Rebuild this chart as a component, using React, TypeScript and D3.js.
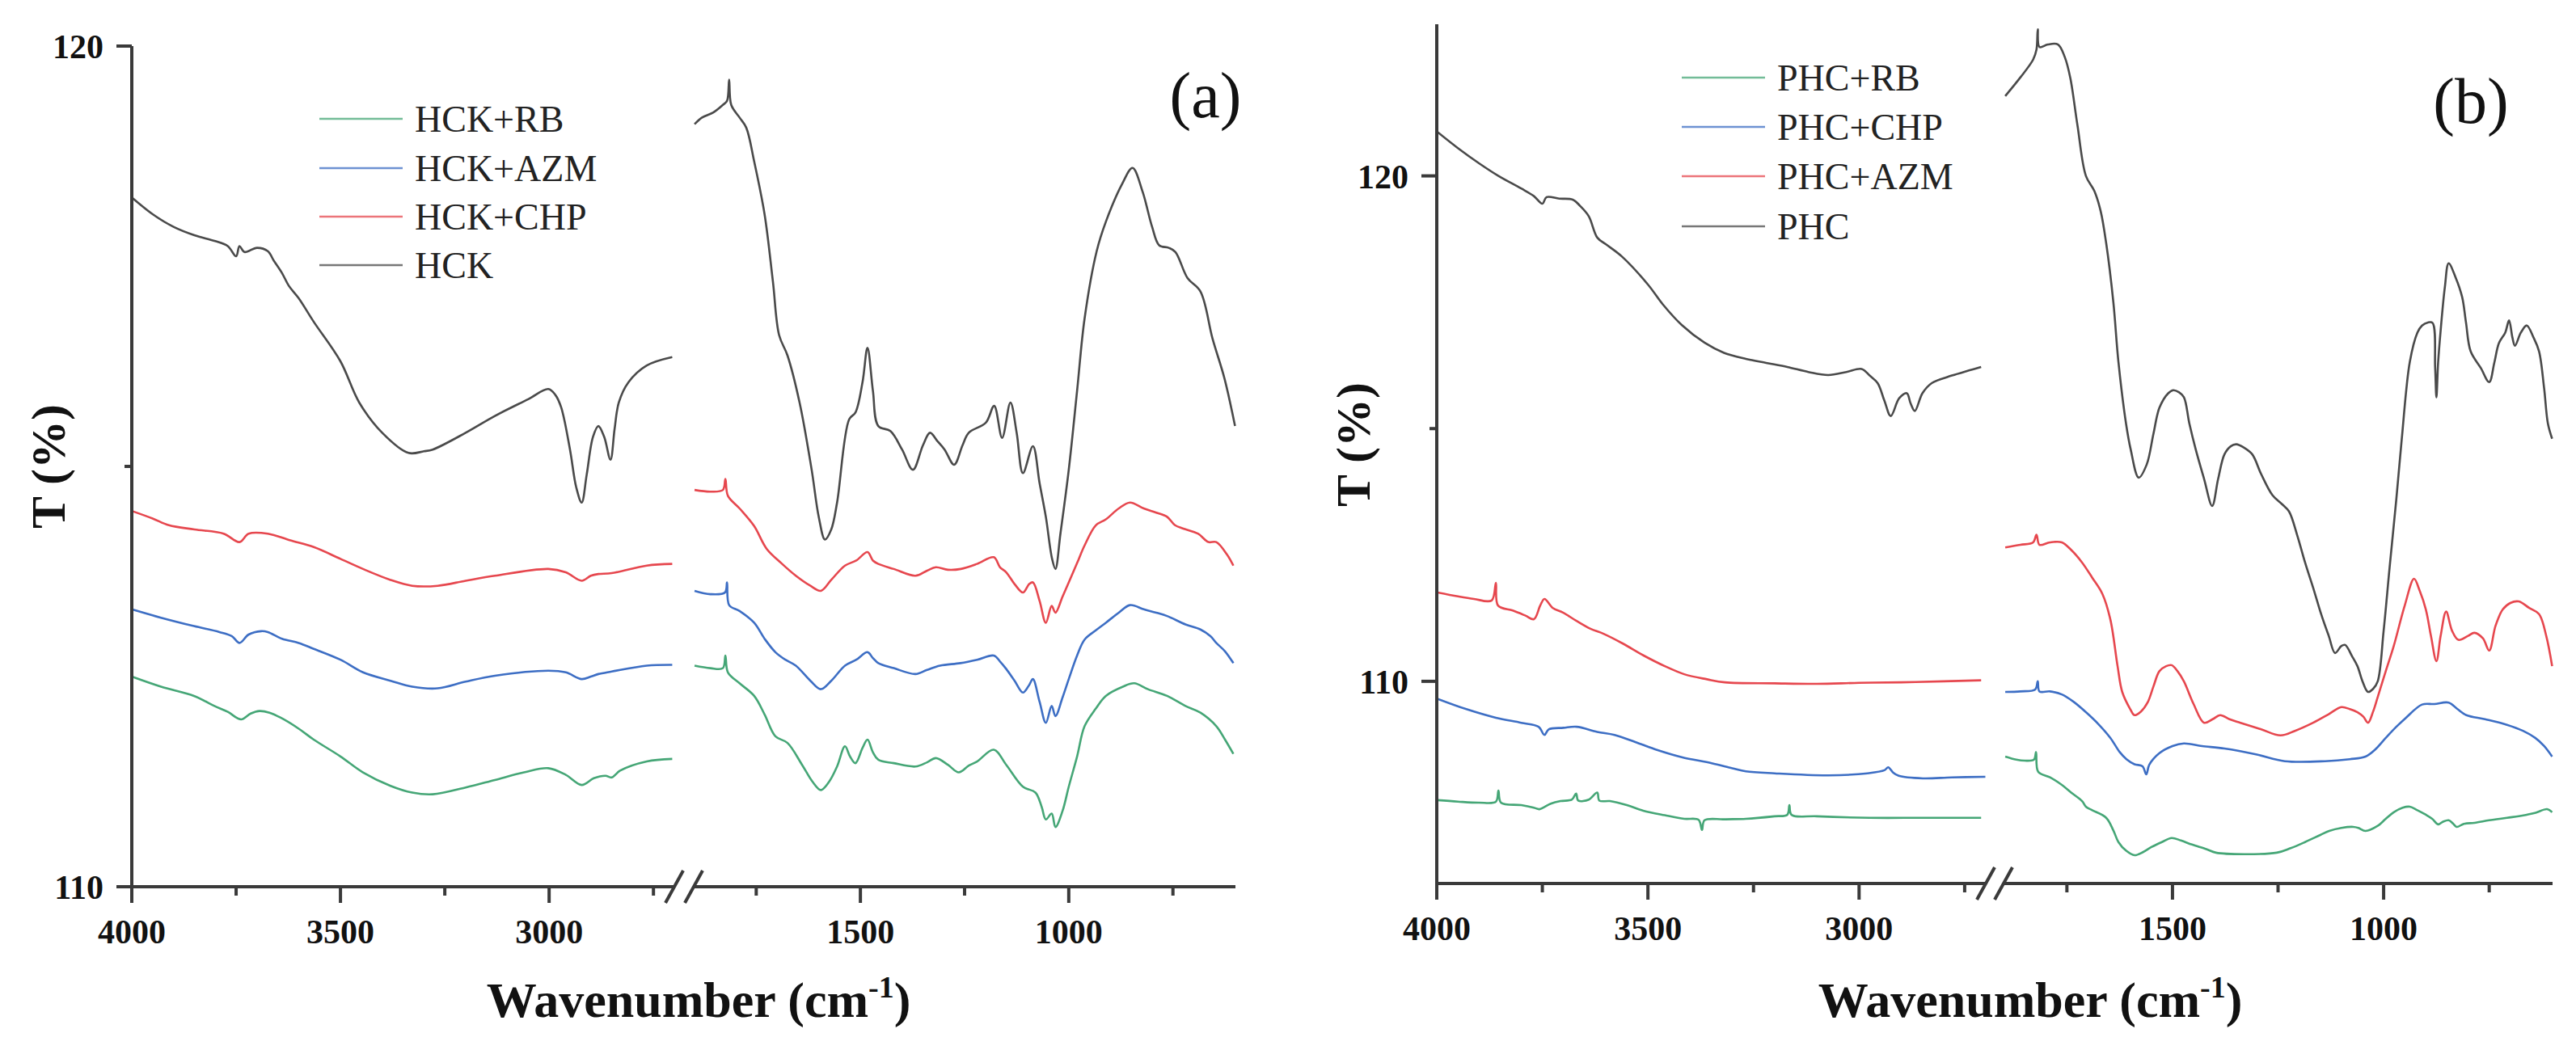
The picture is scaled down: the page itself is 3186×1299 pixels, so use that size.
import React from 'react';
import * as d3 from 'd3';

type Pt = [number, number];

// ---------- Panel (a) data: [wavenumber, T%] ----------
const HCK: Pt[] = [
  [4000,118.2],[3950,118.0],[3900,117.85],[3850,117.75],[3800,117.68],[3770,117.62],[3750,117.5],[3742,117.62],[3730,117.55],[3700,117.6],[3674,117.56],[3660,117.45],[3640,117.3],[3624,117.15],[3600,117.0],[3564,116.72],[3500,116.25],[3455,115.76],[3400,115.4],[3337,115.16],[3300,115.18],[3279,115.2],[3200,115.4],[3130,115.6],[3050,115.8],[3002,115.92],[2985,115.85],[2971,115.7],[2950,115.2],[2935,114.75],[2922,114.57],[2910,114.9],[2895,115.35],[2882,115.48],[2868,115.35],[2853,115.08],[2843,115.45],[2833,115.76],[2810,116.0],[2766,116.2],[2705,116.3],
  [1898,119.07],[1880,119.15],[1853,119.21],[1830,119.3],[1820,119.35],[1815,119.6],[1810,119.3],[1790,119.15],[1774,119.03],[1755,118.63],[1730,118.0],[1710,117.2],[1695,116.56],[1675,116.32],[1646,115.76],[1617,114.96],[1600,114.4],[1585,114.13],[1570,114.25],[1556,114.57],[1527,115.56],[1512,115.64],[1495,116.0],[1483,116.41],[1470,115.9],[1457,115.48],[1428,115.42],[1400,115.2],[1374,114.96],[1350,115.25],[1333,115.4],[1315,115.3],[1298,115.2],[1275,115.02],[1255,115.25],[1240,115.4],[1199,115.52],[1179,115.72],[1160,115.34],[1140,115.76],[1125,115.4],[1110,114.92],[1086,115.24],[1070,114.8],[1055,114.4],[1040,113.9],[1032,113.78],[1020,114.2],[1000,114.96],[980,115.9],[962,116.76],[933,117.56],[911,117.91],[872,118.36],[847,118.55],[823,118.27],[800,117.85],[783,117.63],[760,117.6],[744,117.55],[715,117.24],[684,117.08],[655,116.52],[626,116.04],[601,115.48],
];
const HCK_CHP: Pt[] = [
  [4000,114.47],[3950,114.38],[3911,114.3],[3850,114.25],[3780,114.2],[3742,114.1],[3720,114.2],[3674,114.2],[3620,114.12],[3564,114.04],[3500,113.9],[3446,113.78],[3380,113.65],[3328,113.58],[3267,113.58],[3200,113.64],[3130,113.7],[3002,113.78],[2960,113.74],[2922,113.64],[2900,113.7],[2882,113.72],[2850,113.73],[2766,113.82],[2705,113.84],
  [1898,114.72],[1860,114.7],[1830,114.72],[1824,114.85],[1818,114.65],[1790,114.5],[1755,114.29],[1725,114.02],[1690,113.85],[1655,113.7],[1620,113.58],[1595,113.52],[1570,113.65],[1537,113.82],[1510,113.88],[1483,113.98],[1470,113.88],[1457,113.84],[1420,113.78],[1368,113.7],[1340,113.76],[1319,113.8],[1290,113.77],[1259,113.78],[1220,113.84],[1180,113.92],[1165,113.8],[1150,113.74],[1130,113.6],[1110,113.5],[1095,113.6],[1086,113.62],[1070,113.4],[1055,113.14],[1041,113.34],[1032,113.26],[1015,113.45],[1000,113.62],[980,113.85],[962,114.06],[935,114.3],[911,114.37],[880,114.5],[853,114.57],[820,114.5],[790,114.45],[764,114.4],[745,114.3],[725,114.26],[690,114.2],[665,114.1],[646,114.1],[620,113.95],[605,113.82],
];
const HCK_AZM: Pt[] = [
  [4000,113.3],[3930,113.2],[3851,113.1],[3790,113.03],[3760,112.98],[3742,112.9],[3720,113.0],[3690,113.04],[3674,113.03],[3640,112.95],[3600,112.9],[3564,112.83],[3500,112.7],[3446,112.55],[3380,112.45],[3328,112.38],[3267,112.36],[3200,112.44],[3130,112.51],[3002,112.57],[2960,112.55],[2922,112.47],[2900,112.5],[2882,112.53],[2850,112.56],[2766,112.63],[2705,112.64],
  [1898,113.52],[1860,113.48],[1825,113.5],[1820,113.62],[1815,113.35],[1790,113.28],[1755,113.14],[1730,112.95],[1704,112.79],[1680,112.7],[1655,112.63],[1620,112.45],[1595,112.35],[1570,112.45],[1537,112.63],[1510,112.7],[1483,112.79],[1470,112.72],[1457,112.66],[1420,112.6],[1368,112.53],[1340,112.58],[1309,112.63],[1260,112.66],[1220,112.7],[1180,112.75],[1165,112.68],[1150,112.59],[1130,112.45],[1110,112.31],[1095,112.4],[1086,112.47],[1070,112.2],[1055,111.95],[1041,112.15],[1032,112.03],[1015,112.25],[1000,112.47],[980,112.75],[962,112.94],[935,113.05],[911,113.14],[880,113.26],[853,113.35],[820,113.3],[790,113.26],[764,113.22],[720,113.12],[684,113.06],[660,112.98],[646,112.9],[625,112.8],[605,112.66],
];
const HCK_RB: Pt[] = [
  [4000,112.5],[3930,112.38],[3851,112.27],[3802,112.15],[3770,112.08],[3738,111.99],[3715,112.06],[3694,112.09],[3670,112.07],[3643,112.01],[3600,111.88],[3564,111.75],[3500,111.55],[3446,111.36],[3380,111.2],[3328,111.12],[3279,111.1],[3200,111.18],[3130,111.27],[3060,111.36],[3002,111.41],[2960,111.33],[2922,111.21],[2893,111.29],[2865,111.32],[2850,111.3],[2830,111.38],[2766,111.49],[2705,111.52],
  [1898,112.63],[1860,112.6],[1830,112.6],[1824,112.75],[1818,112.55],[1790,112.42],[1755,112.27],[1730,112.05],[1704,111.79],[1675,111.71],[1640,111.45],[1615,111.25],[1595,111.15],[1575,111.25],[1556,111.43],[1537,111.67],[1525,111.55],[1512,111.47],[1495,111.65],[1483,111.75],[1470,111.6],[1457,111.51],[1420,111.47],[1368,111.43],[1340,111.48],[1319,111.53],[1290,111.45],[1264,111.36],[1240,111.44],[1220,111.49],[1180,111.63],[1150,111.45],[1110,111.19],[1080,111.12],[1065,110.95],[1055,110.8],[1041,110.87],[1032,110.71],[1015,110.9],[1000,111.19],[980,111.55],[962,111.91],[935,112.12],[911,112.27],[870,112.38],[843,112.42],[810,112.35],[764,112.27],[720,112.15],[684,112.07],[646,111.91],[625,111.75],[605,111.58],
];

// ---------- Panel (b) data ----------
const PHC: Pt[] = [
  [4000,120.88],[3950,120.55],[3900,120.25],[3854,120.0],[3800,119.75],[3770,119.6],[3750,119.45],[3740,119.58],[3710,119.55],[3678,119.53],[3660,119.4],[3640,119.2],[3620,118.78],[3600,118.65],[3561,118.4],[3500,117.85],[3464,117.45],[3420,117.05],[3366,116.7],[3320,116.5],[3268,116.38],[3220,116.3],[3170,116.22],[3120,116.12],[3073,116.06],[3030,116.12],[2994,116.18],[2975,116.05],[2956,115.9],[2940,115.55],[2925,115.25],[2905,115.6],[2887,115.7],[2878,115.5],[2868,115.35],[2850,115.7],[2828,115.9],[2780,116.05],[2740,116.15],[2711,116.22],
  [1896,121.58],[1860,121.95],[1830,122.3],[1822,122.5],[1819,122.9],[1815,122.55],[1795,122.6],[1771,122.6],[1755,122.35],[1742,121.94],[1725,121.0],[1705,120.0],[1685,119.7],[1670,119.3],[1657,118.67],[1640,117.5],[1628,116.32],[1610,115.1],[1599,114.59],[1580,114.03],[1561,114.29],[1545,114.9],[1531,115.41],[1510,115.7],[1498,115.76],[1485,115.72],[1473,115.62],[1460,115.1],[1445,114.59],[1425,114.0],[1406,113.47],[1392,114.0],[1377,114.49],[1362,114.65],[1349,114.69],[1330,114.62],[1311,114.49],[1290,114.1],[1263,113.68],[1240,113.5],[1224,113.36],[1205,112.9],[1186,112.35],[1165,111.8],[1148,111.33],[1130,110.9],[1115,110.56],[1100,110.7],[1091,110.72],[1075,110.5],[1062,110.3],[1050,110.0],[1037,109.79],[1025,109.85],[1014,110.0],[1000,111.0],[986,112.24],[970,113.6],[957,114.8],[938,116.32],[920,116.9],[909,117.04],[895,117.1],[884,117.09],[878,116.2],[875,115.62],[871,116.3],[865,116.94],[855,117.8],[846,118.27],[830,118.0],[814,117.6],[805,117.1],[794,116.53],[770,116.2],[750,115.92],[738,116.3],[727,116.69],[712,116.9],[703,117.14],[695,116.8],[689,116.64],[675,116.9],[661,117.04],[645,116.8],[632,116.53],[620,115.8],[611,115.1],[601,114.8],
];
const PHC_AZM: Pt[] = [
  [4000,111.76],[3950,111.68],[3912,111.63],[3870,111.6],[3860,111.95],[3855,111.5],[3820,111.4],[3790,111.3],[3770,111.23],[3755,111.5],[3745,111.63],[3725,111.45],[3701,111.36],[3670,111.2],[3636,111.04],[3605,110.94],[3560,110.75],[3510,110.51],[3460,110.3],[3414,110.14],[3360,110.04],[3318,109.98],[3200,109.96],[3100,109.95],[3000,109.97],[2900,109.98],[2800,110.0],[2711,110.02],
  [1896,112.65],[1860,112.7],[1830,112.75],[1822,112.9],[1815,112.7],[1790,112.75],[1762,112.75],[1740,112.6],[1714,112.35],[1690,112.05],[1666,111.73],[1647,111.22],[1630,110.3],[1619,109.79],[1600,109.45],[1590,109.33],[1575,109.4],[1559,109.58],[1545,109.9],[1531,110.2],[1515,110.3],[1502,110.32],[1488,110.2],[1473,110.0],[1450,109.55],[1425,109.18],[1405,109.25],[1387,109.33],[1365,109.25],[1339,109.18],[1290,109.05],[1244,108.93],[1210,109.02],[1167,109.18],[1130,109.35],[1100,109.49],[1080,109.45],[1062,109.39],[1048,109.3],[1037,109.18],[1025,109.4],[1014,109.69],[995,110.2],[976,110.7],[950,111.5],[928,112.03],[915,111.8],[900,111.42],[888,110.9],[875,110.4],[865,110.9],[852,111.38],[838,111.0],[823,110.82],[800,110.9],[785,110.96],[765,110.85],[750,110.61],[735,111.1],[718,111.42],[700,111.55],[680,111.58],[655,111.45],[632,111.33],[615,110.9],[601,110.3],
];
const PHC_CHP: Pt[] = [
  [4000,109.66],[3930,109.45],[3860,109.28],[3800,109.18],[3759,109.1],[3745,108.94],[3735,109.05],[3700,109.08],[3669,109.1],[3620,109.0],[3579,108.94],[3530,108.8],[3477,108.64],[3420,108.5],[3349,108.38],[3300,108.28],[3268,108.22],[3200,108.18],[3073,108.14],[2980,108.18],[2940,108.24],[2931,108.3],[2920,108.2],[2906,108.13],[2849,108.08],[2780,108.1],[2701,108.11],
  [1896,109.79],[1860,109.8],[1825,109.84],[1819,110.0],[1815,109.8],[1790,109.8],[1762,109.74],[1735,109.6],[1705,109.39],[1675,109.15],[1647,108.88],[1625,108.6],[1609,108.46],[1590,108.36],[1571,108.32],[1562,108.16],[1555,108.35],[1531,108.58],[1500,108.72],[1473,108.77],[1430,108.72],[1377,108.67],[1300,108.55],[1234,108.42],[1139,108.42],[1080,108.46],[1043,108.51],[1020,108.65],[995,108.88],[970,109.1],[947,109.28],[909,109.54],[880,109.55],[846,109.58],[825,109.45],[804,109.33],[760,109.25],[708,109.14],[670,109.02],[641,108.88],[620,108.72],[601,108.51],
];
const PHC_RB: Pt[] = [
  [4000,107.65],[3950,107.62],[3900,107.6],[3860,107.62],[3854,107.84],[3848,107.6],[3800,107.55],[3770,107.5],[3757,107.47],[3730,107.58],[3707,107.63],[3680,107.66],[3670,107.78],[3665,107.64],[3640,107.66],[3620,107.8],[3615,107.64],[3590,107.63],[3550,107.55],[3511,107.44],[3460,107.35],[3414,107.28],[3380,107.26],[3372,107.06],[3366,107.25],[3320,107.27],[3268,107.28],[3200,107.33],[3170,107.36],[3165,107.55],[3160,107.36],[3100,107.33],[2975,107.3],[2850,107.3],[2711,107.3],
  [1896,108.51],[1870,108.45],[1850,108.43],[1828,108.45],[1823,108.6],[1818,108.21],[1790,108.1],[1762,107.95],[1740,107.8],[1714,107.63],[1705,107.52],[1690,107.45],[1657,107.3],[1640,107.05],[1628,106.82],[1610,106.65],[1590,106.56],[1570,106.62],[1550,106.72],[1525,106.82],[1502,106.9],[1480,106.85],[1454,106.77],[1420,106.68],[1397,106.61],[1330,106.58],[1253,106.61],[1220,106.7],[1186,106.82],[1150,106.96],[1129,107.04],[1100,107.1],[1072,107.12],[1060,107.1],[1043,107.04],[1014,107.14],[995,107.28],[976,107.41],[955,107.5],[938,107.52],[920,107.45],[900,107.36],[885,107.28],[871,107.17],[860,107.22],[846,107.25],[835,107.18],[827,107.12],[810,107.18],[785,107.2],[750,107.25],[708,107.3],[680,107.33],[661,107.36],[640,107.4],[613,107.47],[601,107.41],
];

// ---------- axes / labels ----------
const X_DOMAIN_LEFT = [4000, 2700];
const X_DOMAIN_RIGHT = [1900, 600];
const X_TICKS_LEFT = [4000, 3750, 3500, 3250, 3000, 2750];
const X_TICKS_RIGHT = [1750, 1500, 1250, 1000, 750];
const X_LABELED = [4000, 3500, 3000, 1500, 1000];
const Y_TICKS = [110, 115, 120];
const Y_LABELED = [110, 120];
const Y_DOMAIN_A = [110, 120];
const Y_DOMAIN_B = [106, 123];

const LEGEND_A = ['HCK+RB', 'HCK+AZM', 'HCK+CHP', 'HCK'];
const LEGEND_B = ['PHC+RB', 'PHC+CHP', 'PHC+AZM', 'PHC'];

const C_GREEN = '#45a676';
const C_BLUE = '#3d6ec4';
const C_RED = '#e6474e';
const C_GRAY = '#4a4a4a';
const AXIS = '#3a3a3a';
const FONT = "'Liberation Serif', 'Times New Roman', serif";

interface Layout {
  x0: number; xbL: number; xbR: number; x1: number;
  yTop: number; yBot: number; yDomain: number[];
  legendX: number; legendY: number[]; tag: string; tagX: number; tagY: number;
  titleX: number; tX: number; tY: number;
}

function Panel({ L, series, legend }: { L: Layout; series: { data: Pt[]; color: string }[]; legend: { name: string; color: string }[] }) {
  const xl = d3.scaleLinear().domain(X_DOMAIN_LEFT).range([L.x0, L.xbL]);
  const xr = d3.scaleLinear().domain(X_DOMAIN_RIGHT).range([L.xbR, L.x1]);
  const y = d3.scaleLinear().domain(L.yDomain).range([L.yBot, L.yTop]);
  const mk = (sc: d3.ScaleLinear<number, number>) =>
    d3.line<Pt>().x(d => sc(d[0])).y(d => y(d[1])).curve(d3.curveCatmullRom.alpha(0.5));
  const lineL = mk(xl);
  const lineR = mk(xr);
  const yb = L.yBot;
  const xpos = (v: number) => (v >= 2000 ? xl(v) : xr(v));
  const allX = [...X_TICKS_LEFT, ...X_TICKS_RIGHT];
  const breakC = [L.xbL, L.xbR];
  return (
    <g>
      {series.map((s, i) => (
        <g key={i}>
          <path d={lineL(s.data.filter(d => d[0] >= 2000)) || ''} fill="none" stroke={s.color} strokeWidth={2.6} strokeLinejoin="round" />
          <path d={lineR(s.data.filter(d => d[0] < 2000)) || ''} fill="none" stroke={s.color} strokeWidth={2.6} strokeLinejoin="round" />
        </g>
      ))}
      {/* axes */}
      <line x1={L.x0} x2={L.x0} y1={L.yTop} y2={yb + 2} stroke={AXIS} strokeWidth={4} />
      <line x1={L.x0 - 2} x2={L.xbL} y1={yb} y2={yb} stroke={AXIS} strokeWidth={4} />
      <line x1={L.xbR} x2={L.x1} y1={yb} y2={yb} stroke={AXIS} strokeWidth={4} />
      {breakC.map((c, i) => (
        <line key={i} x1={c - 11} y1={yb + 20} x2={c + 11} y2={yb - 20} stroke={AXIS} strokeWidth={4} />
      ))}
      {allX.map(v => {
        const major = X_LABELED.includes(v);
        return <line key={v} x1={xpos(v)} x2={xpos(v)} y1={yb} y2={yb + (major ? 20 : 11)} stroke={AXIS} strokeWidth={4} />;
      })}
      {X_LABELED.map(v => (
        <text key={v} x={xpos(v)} y={yb + 70} textAnchor="middle" fontFamily={FONT} fontWeight="bold" fontSize={42} fill="#111">{v}</text>
      ))}
      {Y_TICKS.map(v => {
        const major = Y_LABELED.includes(v);
        return <line key={v} x1={L.x0} x2={L.x0 - (major ? 19 : 9)} y1={y(v)} y2={y(v)} stroke={AXIS} strokeWidth={4} />;
      })}
      {Y_LABELED.map(v => (
        <text key={v} x={L.x0 - 35} y={y(v) + 15} textAnchor="end" fontFamily={FONT} fontWeight="bold" fontSize={42} fill="#111">{v}</text>
      ))}
      <text x={L.titleX} y={1258} textAnchor="middle" fontFamily={FONT} fontWeight="bold" fontSize={62} fill="#111">
        Wavenumber (cm<tspan fontSize={38} dy={-24}>-1</tspan><tspan dy={24}>)</tspan>
      </text>
      <text transform={`translate(${L.tX},${L.tY}) rotate(-90)`} textAnchor="middle" fontFamily={FONT} fontWeight="bold" fontSize={60} fill="#111">T (%)</text>
      {legend.map((l, i) => (
        <g key={l.name}>
          <line x1={L.legendX} x2={L.legendX + 103} y1={L.legendY[i]} y2={L.legendY[i]} stroke={l.color} strokeWidth={2.6} opacity={0.75} />
          <text x={L.legendX + 118} y={L.legendY[i] + 16} fontFamily={FONT} fontSize={46} fill="#222">{l.name}</text>
        </g>
      ))}
      <text x={L.tagX} y={L.tagY} textAnchor="middle" fontFamily={FONT} fontSize={80} fill="#111">{L.tag}</text>
    </g>
  );
}

const LAYOUT_A: Layout = {
  x0: 163, xbL: 834, xbR: 858, x1: 1528, yTop: 57, yBot: 1097, yDomain: Y_DOMAIN_A,
  legendX: 395, legendY: [147, 208, 268, 328], tag: '(a)', tagX: 1491, tagY: 145,
  titleX: 864, tX: 80, tY: 577,
};
const LAYOUT_B: Layout = {
  x0: 1777, xbL: 2456, xbR: 2478, x1: 3157, yTop: 30, yBot: 1093, yDomain: Y_DOMAIN_B,
  legendX: 2080, legendY: [96, 157, 218, 280], tag: '(b)', tagX: 3056, tagY: 152,
  titleX: 2511, tX: 1694, tY: 550,
};

export default function App() {
  const seriesA = [
    { data: HCK_RB, color: C_GREEN },
    { data: HCK_AZM, color: C_BLUE },
    { data: HCK_CHP, color: C_RED },
    { data: HCK, color: C_GRAY },
  ];
  const seriesB = [
    { data: PHC_RB, color: C_GREEN },
    { data: PHC_CHP, color: C_BLUE },
    { data: PHC_AZM, color: C_RED },
    { data: PHC, color: C_GRAY },
  ];
  const colors = [C_GREEN, C_BLUE, C_RED, C_GRAY];
  return (
    <svg width={3186} height={1299} style={{ position: 'absolute', left: 0, top: 0, display: 'block', background: '#fff' }}>
      <rect width={3186} height={1299} fill="#fff" />
      <Panel L={LAYOUT_A} series={seriesA} legend={LEGEND_A.map((n, i) => ({ name: n, color: colors[i] }))} />
      <Panel L={LAYOUT_B} series={seriesB} legend={LEGEND_B.map((n, i) => ({ name: n, color: colors[i] }))} />
    </svg>
  );
}
